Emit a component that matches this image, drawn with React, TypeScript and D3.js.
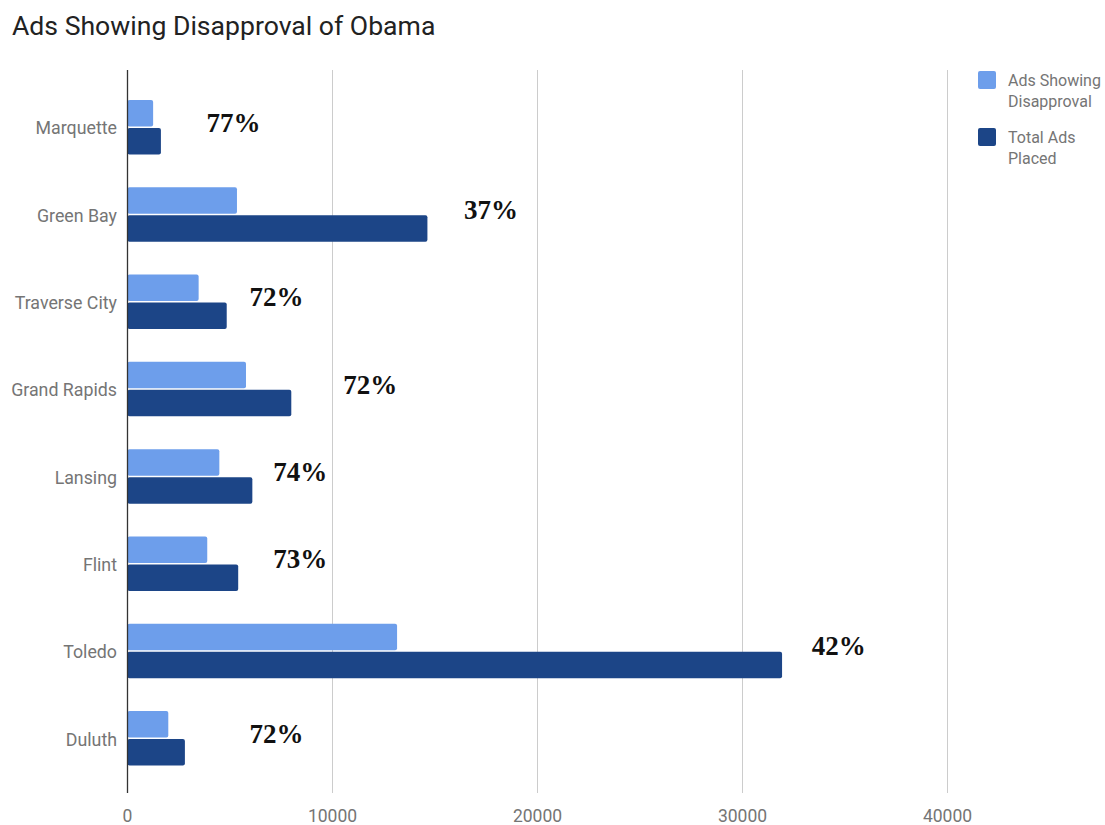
import React from "react";
import * as d3 from "d3";

const categories = ["Marquette", "Green Bay", "Traverse City", "Grand Rapids", "Lansing", "Flint", "Toledo", "Duluth"];
const disapprovalAds = [1250, 5340, 3470, 5780, 4480, 3890, 13150, 1990];
const totalAds = [1630, 14630, 4840, 7990, 6090, 5400, 31930, 2800];
const percentLabels = ["77%", "37%", "72%", "72%", "74%", "73%", "42%", "72%"];
// annotation anchor along the value axis (data units)
const percentLabelAt = [3850, 16420, 5950, 10530, 7110, 7110, 33380, 5950];
const xTicks = [0, 10000, 20000, 30000, 40000];
const seriesNames = [["Ads Showing", "Disapproval"], ["Total Ads", "Placed"]];

const W = 1105;
const H = 825;
const LIGHT = "#6d9eeb";
const DARK = "#1c4587";
const FONT = "Roboto, 'Noto Sans', sans-serif";

export default function App() {
  const x = d3.scaleLinear().domain([0, 40000]).range([127.5, 947.5]);
  const y = d3.scaleBand<string>().domain(categories).range([83.5, 782]).padding(0);
  const barH = 26.5;
  const gap = 1.5;
  const plotTop = 70;
  const plotBottom = 793;

  return (
    <svg width={W} height={H} style={{ position: "absolute", left: 0, top: 0, background: "#fff" }}>
      <rect x={0} y={0} width={W} height={H} fill="#fff" />
      <text x={12} y={35} fontFamily={FONT} fontSize={26.6} fill="#222">
        Ads Showing Disapproval of Obama
      </text>

      {xTicks.slice(1).map((t) => (
        <line key={t} x1={x(t)} x2={x(t)} y1={plotTop} y2={plotBottom} stroke="#cccccc" strokeWidth={1} />
      ))}
      {xTicks.map((t) => (
        <text key={"l" + t} x={x(t)} y={822} textAnchor="middle" fontFamily={FONT} fontSize={17.5} fill="#757575">
          {t}
        </text>
      ))}

      {categories.map((c, i) => {
        const cy = (y(c) as number) + y.bandwidth() / 2;
        const top = cy - barH - gap / 2;
        return (
          <g key={c}>
            <rect x={x(0)} y={top} width={x(disapprovalAds[i]) - x(0)} height={barH} rx={2} fill={LIGHT} />
            <rect x={x(0)} y={top + barH + gap} width={x(totalAds[i]) - x(0)} height={barH} rx={2} fill={DARK} />
            <text x={117} y={cy + 1} dy="0.35em" textAnchor="end" fontFamily={FONT} fontSize={17.8} fill="#757575">
              {c}
            </text>
            <text
              x={x(percentLabelAt[i])}
              y={cy - 5}
              dy="0.35em"
              fontFamily="'Liberation Serif', 'Times New Roman', serif"
              fontWeight="bold"
              fontSize={27}
              fill="#111"
            >
              {percentLabels[i]}
            </text>
          </g>
        );
      })}

      <line x1={x(0)} x2={x(0)} y1={plotTop} y2={plotBottom} stroke="#333" strokeWidth={1.3} />

      {seriesNames.map((lines, i) => (
        <g key={i} transform={`translate(978, ${71 + i * 57})`}>
          <rect x={0} y={0} width={18} height={18} rx={2} fill={i === 0 ? LIGHT : DARK} />
          {lines.map((ln, j) => (
            <text key={j} x={30} y={15 + j * 21} fontFamily={FONT} fontSize={16} fill="#757575">
              {ln}
            </text>
          ))}
        </g>
      ))}
    </svg>
  );
}
